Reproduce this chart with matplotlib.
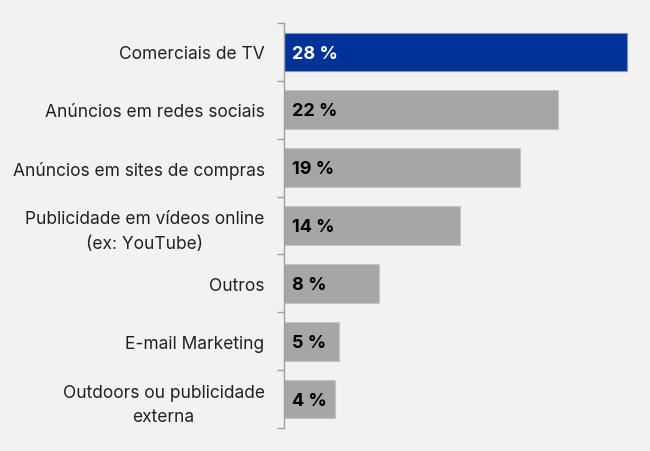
import matplotlib
matplotlib.use("Agg")
import matplotlib.pyplot as plt
from matplotlib.ticker import FixedLocator

categories = ["Comerciais de TV", "Anúncios em redes sociais", "Anúncios em sites de compras",
              "Publicidade em vídeos online\n(ex: YouTube)", "Outros", "E-mail Marketing",
              "Outdoors ou publicidade\nexterna"]
values = [28.0, 22.4, 19.3, 14.4, 7.8, 4.5, 4.2]
value_labels = ["28 %", "22 %", "19 %", "14 %", "8 %", "5 %", "4 %"]

BG = "#f2f2f2"
BLUE = "#003399"
GRAY = "#a6a6a6"
FONT = ["Inter", "DejaVu Sans"]

fig = plt.figure(figsize=(6.5, 4.52), dpi=100, facecolor=BG)
ax = fig.add_axes([284/650, 23/452, (645-284)/650, (429-24)/452])
ax.set_facecolor(BG)

colors = [BLUE] + [GRAY] * (len(values) - 1)
edges = ["#7f93c9"] + ["#c4c4c4"] * (len(values) - 1)
y = list(range(len(values)))
ax.barh(y, values, height=0.67, color=colors, edgecolor=edges, linewidth=0.8)

for i, (v, lab) in enumerate(zip(values, value_labels)):
    ax.text(0.65, i + 0.02, lab, va="center", ha="left", fontsize=13, fontweight="bold",
            color="white" if i == 0 else "black", family=FONT)

ax.set_ylim(len(values) - 0.5, -0.5)
ax.set_xlim(0, 29.5)
ax.set_yticks(y)
ax.set_yticklabels(categories, family=FONT, fontsize=12.5, color="#222222",
                   multialignment="center", linespacing=1.55)
ax.tick_params(axis="y", which="major", length=0, pad=14)
ax.yaxis.set_minor_locator(FixedLocator([i - 0.5 for i in range(len(values) + 1)]))
ax.tick_params(axis="y", which="minor", length=5, color="#a0a0a0", width=1)
ax.set_xticks([])
for s in ["top", "right", "bottom"]:
    ax.spines[s].set_visible(False)
ax.spines["left"].set_color("#a0a0a0")
ax.spines["left"].set_linewidth(1)

fig.savefig("out.png", dpi=100, facecolor=BG)
